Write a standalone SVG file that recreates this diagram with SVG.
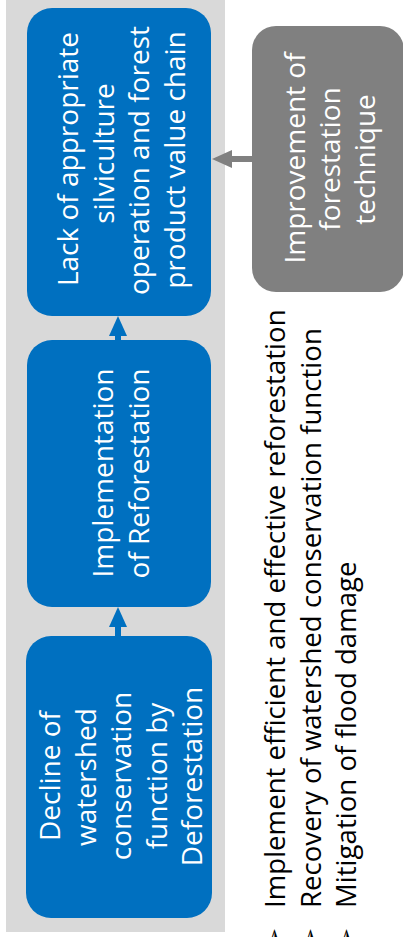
<svg xmlns="http://www.w3.org/2000/svg" width="403" height="937" viewBox="0 0 403 937">
  <style>
    .panel { fill: #D9D9D9; }
    .step { fill: #0070C0; }
    .input { fill: #808080; }
    .lbl { font-family: "Open Sans", "Noto Sans", sans-serif; font-size: 28px; fill: #FFFFFF; text-anchor: middle; }
    .out { font-family: "Open Sans", "Noto Sans", sans-serif; font-size: 27.6px; fill: #000000; }
    .bullet { font-family: "DejaVu Sans", sans-serif; font-size: 24px; fill: #000000; text-anchor: end; }
    .flow { stroke: #0070C0; stroke-width: 6; fill: none; }
    .feed { stroke: #808080; stroke-width: 6; fill: none; }
  </style>
  <defs>
    <marker id="headBlue" viewBox="0 0 20 18" markerWidth="20" markerHeight="18" refX="0" refY="9" orient="auto" markerUnits="userSpaceOnUse">
      <path d="M0,0 L20,9 L0,18 Z" fill="#0070C0"/>
    </marker>
    <marker id="headGray" viewBox="0 0 20 18" markerWidth="20" markerHeight="18" refX="0" refY="9" orient="auto" markerUnits="userSpaceOnUse">
      <path d="M0,0 L20,9 L0,18 Z" fill="#808080"/>
    </marker>
  </defs>

  <!-- background band behind the step chain -->
  <rect class="panel" x="6" y="-10" width="219" height="942"/>

  <!-- connectors -->
  <g id="connectors">
    <path class="flow" d="M118,636 L118,627" marker-end="url(#headBlue)"/>
    <path class="flow" d="M118,340 L118,336" marker-end="url(#headBlue)"/>
    <path class="feed" d="M252,159 L232,159" marker-end="url(#headGray)"/>
  </g>

  <!-- step 1 -->
  <g id="decline">
    <rect class="step" x="26" y="636" width="186" height="282" rx="25"/>
    <text class="lbl" transform="translate(60,776) rotate(-90)">Decline of</text>
    <text class="lbl" transform="translate(95.5,777) rotate(-90)">watershed</text>
    <text class="lbl" transform="translate(131,776) rotate(-90)">conservation</text>
    <text class="lbl" transform="translate(166.5,776) rotate(-90)">function by</text>
    <text class="lbl" transform="translate(202,776.5) rotate(-90)">Deforestation</text>
  </g>

  <!-- step 2 -->
  <g id="reforestation">
    <rect class="step" x="27" y="340" width="184" height="267" rx="25"/>
    <text class="lbl" transform="translate(113,473) rotate(-90)">Implementation</text>
    <text class="lbl" transform="translate(148.5,473.5) rotate(-90)">of Reforestation</text>
  </g>

  <!-- step 3 -->
  <g id="silviculture">
    <rect class="step" x="27" y="8" width="184" height="308" rx="25"/>
    <text class="lbl" transform="translate(78,159) rotate(-90)">Lack of appropriate</text>
    <text class="lbl" transform="translate(113.5,153.5) rotate(-90)">silviculture</text>
    <text class="lbl" transform="translate(149,160.5) rotate(-90)">operation and forest</text>
    <text class="lbl" transform="translate(184.5,160) rotate(-90)">product value chain</text>
  </g>

  <!-- external input -->
  <g id="technique">
    <rect class="input" x="252" y="26" width="152" height="266" rx="24"/>
    <text class="lbl" transform="translate(305,158) rotate(-90)">Improvement of</text>
    <text class="lbl" transform="translate(340,159) rotate(-90)">forestation</text>
    <text class="lbl" transform="translate(375,159.5) rotate(-90)">technique</text>
  </g>

  <!-- expected outcomes -->
  <g id="outcomes">
    <text class="bullet" transform="translate(282,928) rotate(-90)">➢</text>
    <text class="out" transform="translate(285,908) rotate(-90)">Implement efficient and effective reforestation</text>
    <text class="bullet" transform="translate(318,928) rotate(-90)">➢</text>
    <text class="out" transform="translate(320.5,908) rotate(-90)">Recovery of watershed conservation function</text>
    <text class="bullet" transform="translate(354,928) rotate(-90)">➢</text>
    <text class="out" transform="translate(356,908) rotate(-90)">Mitigation of flood damage</text>
  </g>
</svg>
